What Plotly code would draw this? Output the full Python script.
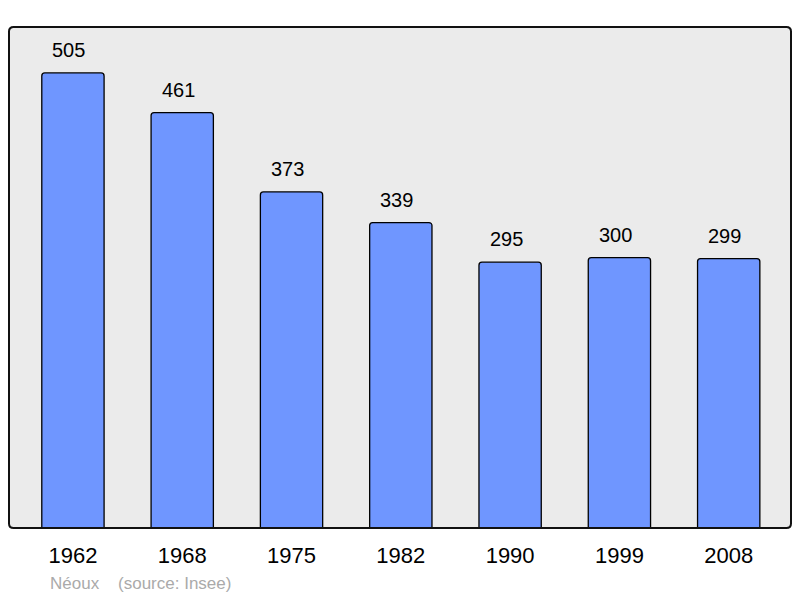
import plotly.graph_objects as go

# Population data (Insee)
years = ['1962', '1968', '1975', '1982', '1990', '1999', '2008']
population = [505, 461, 373, 339, 295, 300, 299]

font = 'Liberation Sans, Arial'

fig = go.Figure()

fig.add_trace(go.Bar(
    x=years, y=population,
    marker=dict(color='#6f96ff', line=dict(color='black', width=1.3), cornerradius=3),
    width=0.57,
))

# value labels above the bars (category axis -> position by category index)
for i, p in enumerate(population):
    fig.add_annotation(x=i, y=p, xref='x', yref='y', text=str(p), showarrow=False,
                       yanchor='bottom', yshift=10, xshift=-4,
                       font=dict(family=font, size=20, color='black'))

# rounded frame around the plot area
r = 0.006
fig.add_shape(type='path', xref='paper', yref='paper', layer='above',
              path=(f'M {r},0 L {1-r},0 Q 1,0 1,{r*1.5} L 1,{1-r*1.5} Q 1,1 {1-r},1 '
                    f'L {r},1 Q 0,1 0,{1-r*1.5} L 0,{r*1.5} Q 0,0 {r},0 Z'),
              line=dict(color='#111', width=2))

fig.add_annotation(text='Néoux&nbsp;&nbsp;&nbsp;&nbsp;(source: Insee)', xref='paper', yref='paper',
                   x=0.05, y=-0.11, xanchor='left', yanchor='middle', showarrow=False,
                   font=dict(family=font, size=17, color='#aaaaaa'))

fig.update_xaxes(type='category', range=[-0.585, 6.57], showgrid=False, ticks='outside', ticklen=8,
                 tickcolor='rgba(0,0,0,0)',
                 tickfont=dict(family=font, size=22, color='black'))
fig.update_yaxes(range=[0, 556], visible=False)

fig.update_layout(
    width=800, height=598, showlegend=False,
    plot_bgcolor='#ebebeb', paper_bgcolor='white',
    margin=dict(l=9, r=9, t=27, b=70),
)

fig.write_html('out.html', post_script="document.body.style.margin='0px';",
               config={'displayModeBar': False})
